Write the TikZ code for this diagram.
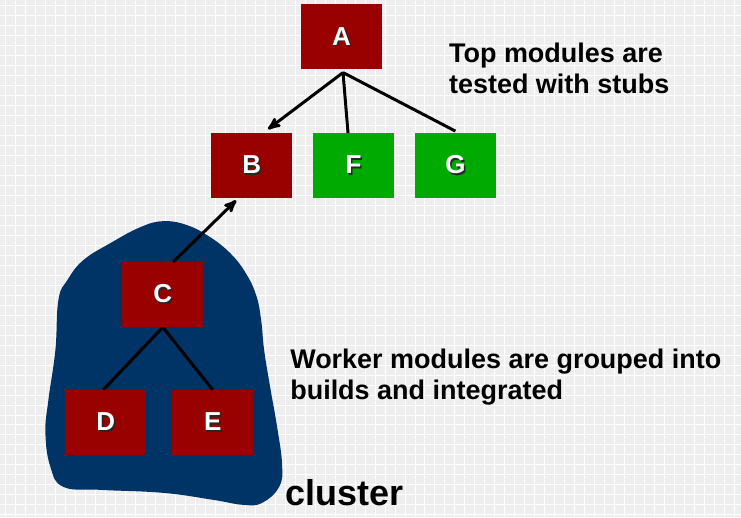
\documentclass[tikz,border=0pt]{standalone}
\usepackage{fontspec}
\setmainfont{Liberation Sans}
\usepackage{tikz}
\usetikzlibrary{positioning}
\usetikzlibrary{arrows}

\definecolor{bgcol}{RGB}{238,238,238}
\definecolor{modred}{RGB}{153,0,0}
\definecolor{stubgreen}{RGB}{0,170,0}
\definecolor{clusterblue}{RGB}{0,51,102}

% white letter with a dark drop shadow
\newcommand{\boxletter}[1]{\rlap{\kern1.5pt\raisebox{-1.5pt}{\color{black!85}#1}}#1}

\begin{document}
\begin{tikzpicture}[>=stealth',x=1pt,y=-1pt,node distance=102pt,
	box node/.style={rectangle,fill=modred,minimum width=81pt,minimum height=65pt,inner sep=0pt,
		text=white,font=\fontsize{26}{26}\selectfont\bfseries},
	stub node/.style={box node,fill=stubgreen},
	note/.style={inner sep=0pt,align=left,font=\fontsize{27}{31}\selectfont\bfseries}]
	
	% background
	\fill[bgcol] (0,0) rectangle (741,517);
	\foreach \gx in {5,15,...,735} \draw[white,line width=0.9pt] (\gx,0) -- (\gx,517);
	\foreach \gy in {5,15,...,515} \draw[white,line width=0.9pt] (0,\gy) -- (741,\gy);
	
	% cluster blob
	\fill[clusterblue] plot[smooth cycle,tension=0.7] coordinates {
		(163,221) (187,225) (210,237) (230,253) (245,272) (256,295) (261,320) (264,350)
		(270,387) (277,427) (282,465) (279,487) (262,503) (243,505) (213,500)
		(163,493) (100,490) (63,487) (50,467) (45,433) (48,400) (55,350)
		(58,300) (67,280) (83,260) (110,243) (140,227)};
	
	\node[box node] (A) at (341.5,36.5) {\boxletter{A}};
	\node[box node] (B) at (251.5,165.5) {\boxletter{B}};
	\node[stub node] (F) [right of=B] {\boxletter{F}};
	\node[stub node] (G) [right of=F] {\boxletter{G}};
	\node[box node] (C) at (162.5,294.5) {\boxletter{C}};
	\node[box node] (D) at (105.5,422.5) {\boxletter{D}};
	\node[box node] (E) at (212.5,422.5) {\boxletter{E}};
	
	\coordinate (Aroot) at ([xshift=1.5pt,yshift=-3pt]A.south);
	
	\path[line width=3pt]
	(Aroot) edge [->] ([xshift=16.5pt,yshift=4pt]B.north)
	(Aroot) edge ([xshift=-5.5pt]F.north)
	(Aroot) edge ([yshift=2pt]G.north)
	([xshift=10.5pt]C.north) edge [->] ([xshift=-15.5pt,yshift=-2pt]B.south)
	(C.south) edge ([xshift=-2.5pt]D.north)
	(C.south) edge (E.north);
	
	\node[note,anchor=north west] (top) at (449,42.5) {Top modules are\\tested with stubs};
	\node[note,anchor=north west] (worker) at (290,348.5) {Worker modules are grouped into\\builds and integrated};
	\node[inner sep=0pt,anchor=base west,font=\fontsize{36}{36}\selectfont\bfseries] (cluster) at (285,506) {cluster};
\end{tikzpicture}
\end{document}
